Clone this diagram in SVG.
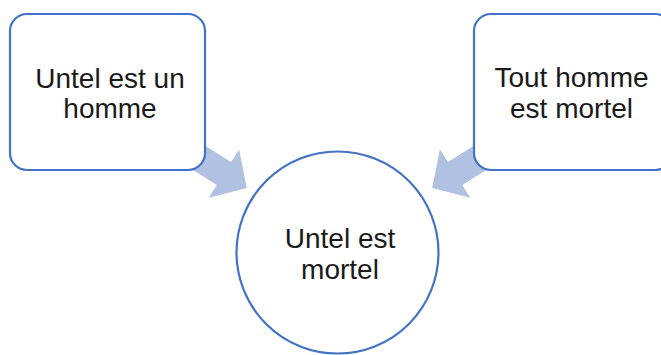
<svg xmlns="http://www.w3.org/2000/svg" width="661" height="355" viewBox="0 0 661 355">
<style>
.node{fill:#ffffff;stroke:#4472C4;stroke-width:2.2}
.arrow{fill:#B1C1E2;stroke:none}
.lbl{font-family:"Liberation Sans",Arial,sans-serif;font-size:28px;fill:#1a1a1a;text-anchor:middle}
</style>
<rect width="661" height="355" fill="#ffffff"/>
<g id="connectors">
<polygon class="arrow" points="187.1,134.4 231.1,162.1 239.1,149.5 246.8,187.9 208.8,197.7 216.7,185 172.7,157.3"/>
<polygon class="arrow" points="491.9,134.4 447.9,162.1 439.9,149.5 432.2,187.9 470.2,197.7 462.3,185 506.3,157.3"/>
</g>
<g id="node-left">
<rect class="node" x="10" y="14" width="195" height="156" rx="17" ry="17"/>
<text class="lbl" x="110" y="88">Untel est un</text>
<text class="lbl" x="110" y="118">homme</text>
</g>
<g id="node-right">
<rect class="node" x="474" y="14" width="198" height="156" rx="17" ry="17"/>
<text class="lbl" x="571.5" y="87">Tout homme</text>
<text class="lbl" x="571.5" y="118">est mortel</text>
</g>
<g id="node-center">
<circle class="node" cx="337.5" cy="252.5" r="101"/>
<text class="lbl" x="340" y="248">Untel est</text>
<text class="lbl" x="340" y="279">mortel</text>
</g>
</svg>
